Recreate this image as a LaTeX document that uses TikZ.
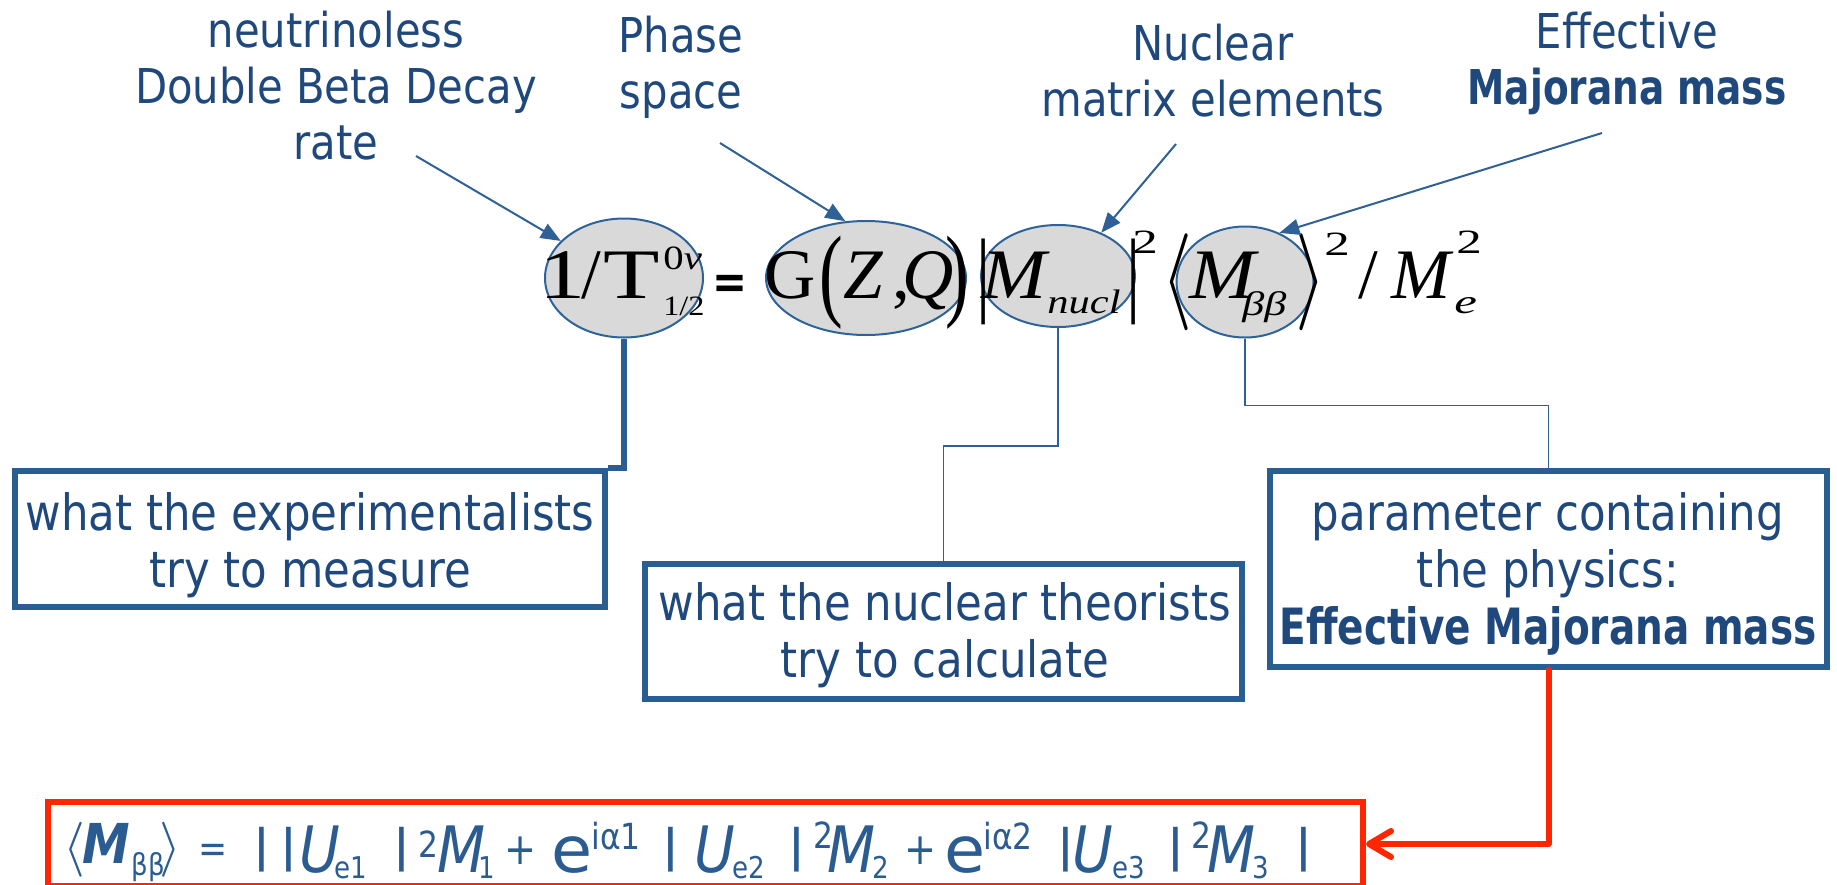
\documentclass[tikz,border=0pt]{standalone}
\usepackage{graphicx}
\usepackage{fontspec}
\setmainfont{DejaVu Sans}[FakeStretch=0.87]
\newfontfamily\narrowsans{DejaVu Sans}[FakeStretch=0.78]
\newfontfamily\tnr{Liberation Serif}
\usetikzlibrary{shapes.geometric,arrows.meta,calc}

\definecolor{lbltext}{HTML}{1F497D}
\definecolor{boxline}{HTML}{2A5E91}
\definecolor{thinline}{HTML}{2F6196}
\definecolor{ellfill}{HTML}{D9D9D9}
\definecolor{ellline}{HTML}{2E6399}
\definecolor{redline}{HTML}{FF2600}
\definecolor{formblue}{HTML}{2A5C92}

\newdimen\upx \upx=0.5pt
\newcommand{\pc}[2]{\makebox[0pt][l]{\kern#1\upx\relax#2}}
\newcommand{\hx}[2]{\scalebox{#1}[1]{#2}}
\newcommand{\mystack}[1]{\begin{tabular}[t]{@{}c@{}}#1\end{tabular}}
\newcommand{\fmain}{\fontsize{35.5pt}{40pt}\selectfont}
\newcommand{\fsub}{\fontsize{17pt}{19pt}\selectfont}
\newcommand{\fsmall}{\fontsize{14pt}{16pt}\selectfont}
\newcommand{\fbsub}{\fontsize{15pt}{17pt}\selectfont}
\newcommand{\fbsup}{\fontsize{18pt}{20pt}\selectfont}
\newcommand{\fmid}{\fontsize{27.5pt}{30pt}\selectfont}
\newcommand{\vbarglyph}{\raisebox{5.3pt}{\scalebox{1}[0.7]{|}}}
\newcommand{\tallbar}{\raisebox{-3pt}{\scalebox{1}[1.33]{|}}}
\newcommand{\bigL}{\raisebox{-4pt}{\fontsize{10pt}{12pt}\selectfont\scalebox{4}[4.85]{$\langle$}}}
\newcommand{\bigR}{\raisebox{-4pt}{\fontsize{10pt}{12pt}\selectfont\scalebox{4}[4.85]{$\rangle$}}}
\newcommand{\midL}{\raisebox{4.5pt}{\fontsize{10pt}{12pt}\selectfont\scalebox{2.8}[2.75]{$\langle$}}}
\newcommand{\midR}{\raisebox{4.5pt}{\fontsize{10pt}{12pt}\selectfont\scalebox{2.8}[2.75]{$\rangle$}}}

\tikzset{
  ellnode/.style={ellipse, draw=ellline, fill=ellfill, line width=1pt, inner sep=0pt},
  boxnode/.style={rectangle, draw=boxline, line width=3pt, inner sep=0pt},
  redbox/.style={rectangle, draw=redline, line width=3pt, inner sep=0pt},
  ptr/.style={draw=thinline, line width=1pt, -{Triangle[length=10pt,width=8pt]}},
  thinconn/.style={draw=thinline, line width=0.8pt},
  thickconn/.style={draw=boxline, line width=3pt},
  redarrow/.style={draw=redline, line width=3pt, line join=round, line cap=round,
     -{Straight Barb[length=11pt,width=13pt,round]}},
  lbl/.style={text=lbltext, inner sep=0pt, anchor=base, font=\fontsize{24pt}{28pt}\selectfont},
  boxtxt/.style={text=lbltext, inner sep=0pt, anchor=base, font=\fontsize{25pt}{28.5pt}\selectfont},
}

\begin{document}
\begin{tikzpicture}[x=0.5pt, y=-0.5pt]
\path[use as bounding box, fill=white] (0,0) rectangle (1837,884);

% top labels
\node[lbl] (lab1) at (336,47) {\mystack{neutrinoless\\Double Beta Decay\\rate}};
\node[lbl] (lab2) at (681,52) {\mystack{Phase\\space}};
\node[lbl] (lab3) at (1213,60) {\mystack{Nuclear\\matrix elements}};
\node[lbl] (lab4) at (1627,48) {\mystack{Effective\\{\narrowsans\bfseries Majorana mass}}};

% ellipses
\node[ellnode, minimum width=79pt, minimum height=59.5pt] (e1) at (624,278) {};
\node[ellnode, minimum width=100pt, minimum height=57pt] (e2) at (866,278) {};
\node[ellnode, minimum width=77pt, minimum height=51pt] (e3) at (1058,276) {};
\node[ellnode, minimum width=68.5pt, minimum height=55.5pt] (e4) at (1245,282) {};

% main formula
\node[anchor=base west, inner sep=0pt, font=\tnr\fmain] (mainformula) at (0,298) {%
\pc{538}{\hx{1.3}{1}}%
\pc{580}{/}%
\pc{602}{\hx{1.3}{T}}%
\pc{662}{\raisebox{14.5pt}{\fsub\hx{1.2}{0\itshape ν}}}%
\pc{662}{\raisebox{-8.5pt}{\fsmall\hx{1.15}{1/2}}}%
\pc{711}{\rmfamily\bfseries\fontsize{24pt}{28pt}\selectfont =}%
\pc{763}{G}%
\pc{818}{\raisebox{-4.5pt}{\scalebox{1}[1.45]{(}}}%
\pc{842}{\itshape Z}%
\pc{891}{,}%
\pc{901}{\itshape Q}%
\pc{944}{\raisebox{-4.5pt}{\scalebox{1}[1.45]{)}}}%
\pc{975}{\tallbar}%
\pc{980}{\hx{1.1}{\itshape M}}%
\pc{1046}{\raisebox{-7.5pt}{\fsub\hx{1.25}{\itshape nucl}}}%
\pc{1125}{\tallbar}%
\pc{1131}{\raisebox{22.5pt}{\fsub\hx{1.5}{2}}}%
\pc{1160}{\bigL}%
\pc{1188}{\hx{1.12}{\itshape M}}%
\pc{1241}{\raisebox{-8.5pt}{\fsub\hx{1.3}{\itshape ββ}}}%
\pc{1294}{\bigR}%
\pc{1323}{\raisebox{21.5pt}{\fsub\hx{1.5}{2}}}%
\pc{1357}{/}%
\pc{1390}{\itshape M}%
\pc{1453}{\raisebox{-7.5pt}{\fsub\hx{1.5}{\itshape e}}}%
\pc{1455}{\raisebox{22.5pt}{\fsub\hx{1.5}{2}}}%
};

% pointer arrows
\coordinate (s1) at (416,156);
\coordinate (s2) at (720,143);
\coordinate (s3) at (1176,144);
\coordinate (s4) at (1602,133);
\draw[ptr] (s1) -- (e1);
\draw[ptr] (s2) -- (e2.110);
\draw[ptr] (s3) -- (e3.45);
\draw[ptr] (s4) -- (e4.55);

% boxes
\node[boxnode, minimum width=295pt, minimum height=68pt] (box1) at (310,539) {};
\node[boxnode, minimum width=298.5pt, minimum height=67.5pt] (box2) at (943.5,631.5) {};
\node[boxnode, minimum width=278.5pt, minimum height=98pt] (params) at (1548.5,569) {};
\node[boxtxt] (box1txt) at (310,530) {\mystack{what the experimentalists\\try to measure}};
\node[boxtxt] (box2txt) at (945,620) {\mystack{what the nuclear theorists\\try to calculate}};
\node[boxtxt] (paramstxt) at (1548,530) {\mystack{parameter containing\\the physics:\\{\narrowsans\bfseries Effective Majorana mass}}};

% connectors
\draw[thickconn] (e1.south) -- (e1.south |- box1.north) -- (box1.north east);
\draw[thinconn] (e3.south) -- ++(0,118) -| (box2.north);
\draw[thinconn] (e4.south) -- ++(0,67) -| (params.north);

% red box and formula
\node[redbox, minimum width=657.5pt, minimum height=42pt] (mbbbox) at (705.5,844) {};
\node[anchor=base west, inner sep=0pt, text=formblue, font=\fontsize{32pt}{36pt}\selectfont] (mbbformula) at (0,872) {%
\pc{62}{\midL}%
\pc{81}{\raisebox{4.5pt}{\fmid\bfseries\itshape M}}%
\pc{130}{\raisebox{-1.5pt}{\fbsub ββ}}%
\pc{158}{\midR}%
\pc{197}{\raisebox{5pt}{\fontsize{20pt}{22pt}\selectfont =}}%
\pc{251}{\vbarglyph}%
\pc{278}{\vbarglyph}%
\pc{298}{\itshape U}%
\pc{333}{\raisebox{-3pt}{\fbsub e1}}%
\pc{391}{\vbarglyph}%
\pc{417}{\raisebox{7.5pt}{\fbsup 2}}%
\pc{436}{\itshape M}%
\pc{477}{\raisebox{-3pt}{\fbsub 1}}%
\pc{503}{\raisebox{4pt}{\fontsize{22pt}{24pt}\selectfont +}}%
\pc{550}{\hx{1.2}{e}}%
\pc{590}{\raisebox{11.5pt}{\fbsup iα1}}%
\pc{660}{\vbarglyph}%
\pc{693}{\itshape U}%
\pc{731}{\raisebox{-3pt}{\fbsub e2}}%
\pc{786}{\vbarglyph}%
\pc{812}{\raisebox{12pt}{\fbsup 2}}%
\pc{826}{\itshape M}%
\pc{871}{\raisebox{-3pt}{\fbsub 2}}%
\pc{903}{\raisebox{4pt}{\fontsize{22pt}{24pt}\selectfont +}}%
\pc{943}{\hx{1.2}{e}}%
\pc{982}{\raisebox{11.5pt}{\fbsup iα2}}%
\pc{1055}{\vbarglyph}%
\pc{1071}{\itshape U}%
\pc{1111}{\raisebox{-3pt}{\fbsub e3}}%
\pc{1165}{\vbarglyph}%
\pc{1190}{\raisebox{12pt}{\fbsup 2}}%
\pc{1206}{\itshape M}%
\pc{1251}{\raisebox{-3pt}{\fbsub 3}}%
\pc{1293}{\vbarglyph}%
};
\draw[redarrow] (params.south) |- (mbbbox.east);
\end{tikzpicture}
\end{document}
